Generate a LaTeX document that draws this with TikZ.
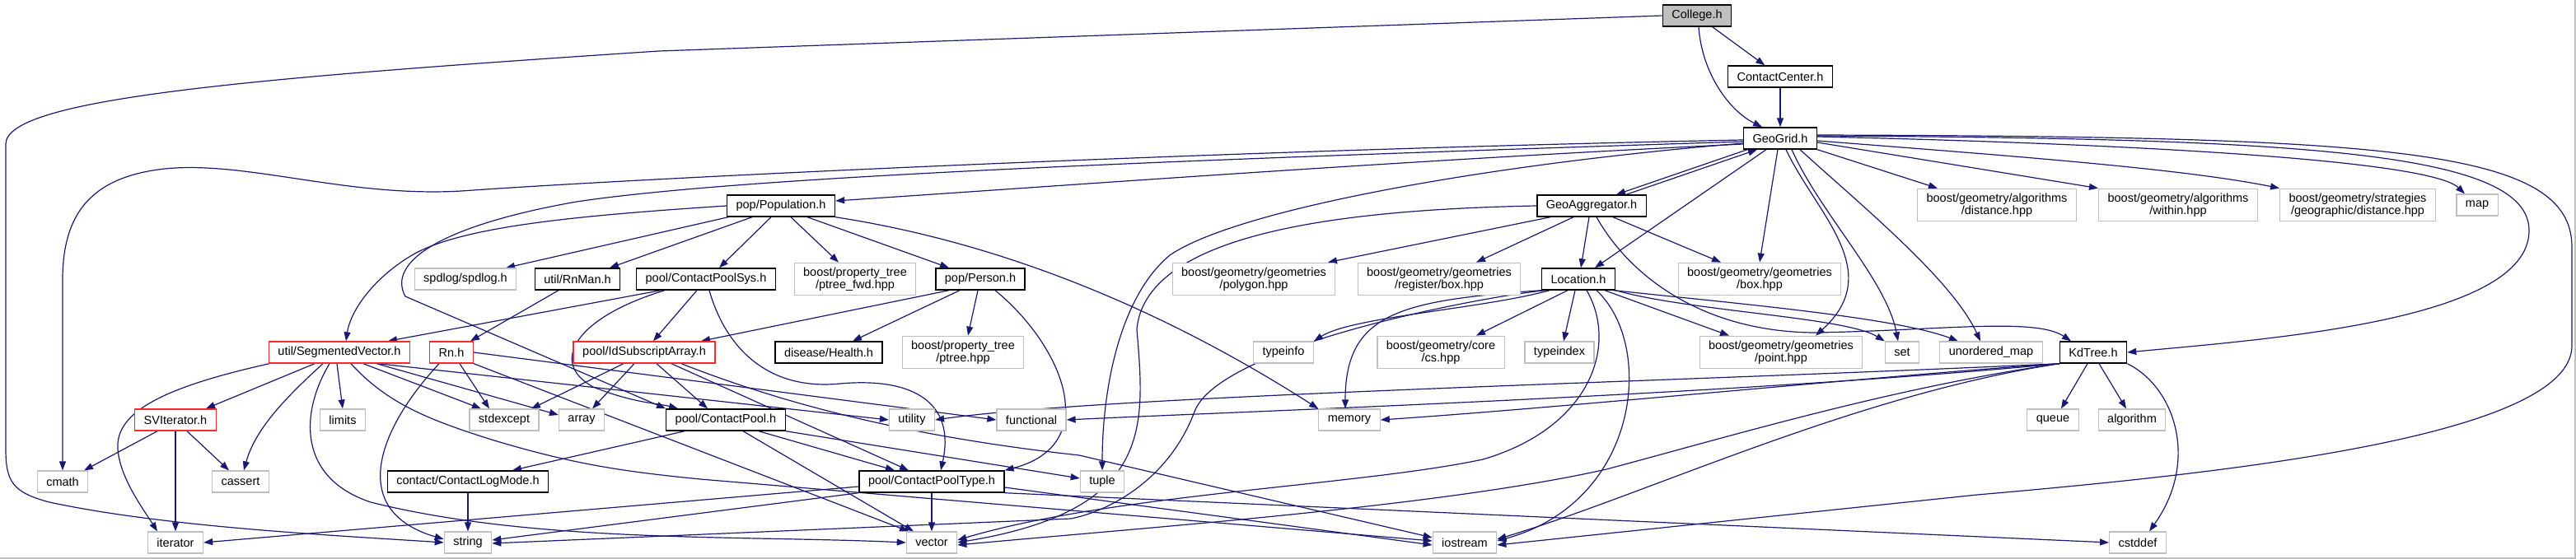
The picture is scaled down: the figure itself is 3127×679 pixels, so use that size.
\documentclass[tikz,border=0pt]{standalone}
\usepackage{fontspec}
\setmainfont{Liberation Sans}
\usetikzlibrary{arrows.meta, backgrounds}

\definecolor{depblue}{RGB}{25,25,112}
\definecolor{sysgray}{RGB}{191,191,191}
\definecolor{redframe}{RGB}{255,40,40}

\begin{document}
\begin{tikzpicture}[
  x=1pt, y=-1pt,
  every node/.style={font=\fontsize{14.5}{15}\selectfont},
  hdr/.style={draw=black, line width=1.4pt, fill=white, minimum height=26pt, inner xsep=11pt, inner ysep=5.5pt, align=center},
  sys/.style={hdr, draw=sysgray, line width=1.2pt},
  redhdr/.style={hdr, draw=redframe},
  roothdr/.style={hdr, fill=sysgray},
  dep/.style={-{Triangle[length=11pt, width=8pt]}, line width=1.2pt, draw=depblue},
  border/.style={draw=sysgray, line width=1.5pt}
]
\useasboundingbox (0,0) rectangle (3127,679);
\draw[border] (0,678) -- (3126,678) -- (3126,0);

% === GEO HEADERS ===
\node[roothdr] (college)  at (2060,19)  {College.h};
\node[hdr]     (ccenter)  at (2161,93)  {ContactCenter.h};
\node[hdr]     (geogrid)  at (2161,168) {GeoGrid.h};
\node[hdr]     (geoagg)   at (1932,250) {GeoAggregator.h};
\node[hdr]     (location) at (1916,339) {Location.h};
\node[hdr]     (kdtree)   at (2541,428) {KdTree.h};

% === POPULATION / POOL HEADERS ===
\node[hdr]    (population) at (948,250)  {pop/Population.h};
\node[hdr]    (rnman)      at (701,339)  {util/RnMan.h};
\node[hdr]    (cpsys)      at (857,339)  {pool/ContactPoolSys.h};
\node[hdr]    (person)     at (1190,339) {pop/Person.h};
\node[redhdr] (segvec)     at (412,428)  {util/SegmentedVector.h};
\node[redhdr] (rn)         at (548,428)  {Rn.h};
\node[redhdr] (idsub)      at (782,428)  {pool/IdSubscriptArray.h};
\node[hdr]    (health)     at (1006,428) {disease/Health.h};
\node[redhdr] (sviter)     at (213,510)  {SVIterator.h};
\node[hdr]    (cpool)      at (881,510)  {pool/ContactPool.h};
\node[hdr]    (clogmode)   at (568,585)  {contact/ContactLogMode.h};
\node[hdr]    (cptype)     at (1131,585) {pool/ContactPoolType.h};

% === SYSTEM / LIBRARY HEADERS ===
\node[sys] (spdlog)    at (565,339)  {spdlog/spdlog.h};
\node[sys] (ptreefwd)  at (1038,339) {boost/property\_tree\\/ptree\_fwd.hpp};
\node[sys] (polygon)   at (1522,339) {boost/geometry/geometries\\/polygon.hpp};
\node[sys] (regbox)    at (1747,339) {boost/geometry/geometries\\/register/box.hpp};
\node[sys] (gbox)      at (2136,339) {boost/geometry/geometries\\/box.hpp};
\node[sys] (bgdist)    at (2424,249) {boost/geometry/algorithms\\/distance.hpp};
\node[sys] (bgwithin)  at (2644,249) {boost/geometry/algorithms\\/within.hpp};
\node[sys] (bgstrat)   at (2862,249) {boost/geometry/strategies\\/geographic/distance.hpp};
\node[sys] (stdmap)    at (3007,249) {map};
\node[sys] (ptree)     at (1169,428) {boost/property\_tree\\/ptree.hpp};
\node[sys] (typeinfo)  at (1558,428) {typeinfo};
\node[sys] (gcs)       at (1749,428) {boost/geometry/core\\/cs.hpp};
\node[sys] (typeindex) at (1893,428) {typeindex};
\node[sys] (gpoint)    at (2162,428) {boost/geometry/geometries\\/point.hpp};
\node[sys] (stdset)    at (2309,428) {set};
\node[sys] (umap)      at (2417,428) {unordered\_map};
\node[sys] (limits)    at (416,510)  {limits};
\node[sys] (stdexcept) at (612,510)  {stdexcept};
\node[sys] (array)     at (706,510)  {array};
\node[sys] (utility)   at (1107,510) {utility};
\node[sys] (functional) at (1252,510) {functional};
\node[sys] (memory)    at (1638,510) {memory};
\node[sys] (queue)     at (2492,510) {queue};
\node[sys] (algorithm) at (2588,510) {algorithm};
\node[sys] (cmath)     at (76,585)   {cmath};
\node[sys] (cassert)   at (292,585)  {cassert};
\node[sys] (tuple)     at (1338,585) {tuple};
\node[sys] (iterator)  at (213,659)  {iterator};
\node[sys] (string)    at (568,659)  {string};
\node[sys] (vector)    at (1131,659) {vector};
\node[sys] (iostream)  at (1778,659) {iostream};
\node[sys] (cstddef)   at (2595,659) {cstddef};

\begin{scope}[on background layer]
% === COLLEGE / CONTACTCENTER ===
\draw[dep] (college) -- (ccenter);
\draw[dep] ([xshift=2pt]college.south) .. controls (2066,90) and (2100,135) .. ([xshift=-22pt]geogrid.north);
\draw[dep] (college.west) -- (800,62) .. controls (300,95) and (7,120) .. (7,175) -- (7,545) .. controls (7,585) and (15,598) .. (60,610) .. controls (200,640) and (400,650) .. (string.west);
\draw[dep] (ccenter) -- (geogrid);

% === GEOGRID ===
\draw[dep] ([xshift=-40pt]geogrid.south) -- ([xshift=30pt]geoagg.north);
\draw[dep] ([xshift=42pt]geoagg.north) -- ([xshift=-28pt]geogrid.south);
\draw[dep] ([xshift=-17pt]geogrid.south) -- ([xshift=20pt]location.north);
\draw[dep] ([xshift=-3pt]geogrid.south) -- (gbox.north);
\draw[dep] ([xshift=7pt]geogrid.south) .. controls (2205,260) and (2290,330) .. ([xshift=42pt]gpoint.north);
\draw[dep] ([xshift=14pt]geogrid.south) .. controls (2210,260) and (2290,340) .. ([xshift=-5pt]stdset.north);
\draw[dep] ([xshift=24pt]geogrid.south) .. controls (2260,250) and (2370,340) .. ([xshift=-13pt]umap.north);
\draw[dep] (geogrid.south east) -- ([xshift=-72pt]bgdist.north);
\draw[dep] ([yshift=-5pt]geogrid.east) -- (bgwithin.north west);
\draw[dep] ([yshift=-3pt]geogrid.east) .. controls (2450,190) and (2650,205) .. (bgstrat.north west);
\draw[dep] ([yshift=2pt]geogrid.east) .. controls (2600,175) and (2950,195) .. ([xshift=-15pt]stdmap.north);
\draw[dep] ([yshift=3pt]geogrid.east) .. controls (2800,168) and (3070,185) .. (3070,280) .. controls (3070,390) and (2750,412) .. (kdtree.east);
\draw[dep] ([yshift=4pt]geogrid.east) .. controls (2900,166) and (3122,180) .. (3122,300) -- (3122,420) .. controls (3122,530) and (2700,575) .. (2400,601) -- ([yshift=-3pt]iostream.east);
\draw[dep] ([yshift=-7pt]geogrid.west) .. controls (1700,195) and (1300,225) .. ([yshift=6pt]population.east);
\draw[dep] ([yshift=-2pt]geogrid.west) .. controls (1500,182) and (800,215) .. (560,232) .. controls (420,240) and (300,195) .. (200,205) .. controls (110,215) and (76,260) .. (76,340) -- (cmath.north);
\draw[dep] ([yshift=-4pt]geogrid.west) .. controls (1400,195) and (900,215) .. (700,245) .. controls (530,275) and (470,320) .. (492,360) -- (cpool.north west);
\draw[dep] ([yshift=-6pt]geogrid.west) .. controls (1800,200) and (1500,255) .. (1420,310) .. controls (1360,360) and (1338,470) .. (tuple.north);

% === GEOAGGREGATOR ===
\draw[dep] ([xshift=-50pt]geoagg.south) -- ([xshift=90pt]polygon.north);
\draw[dep] ([xshift=-22pt]geoagg.south) -- ([xshift=45pt]regbox.north);
\draw[dep] ([xshift=-3pt]geoagg.south) -- ([xshift=3pt]location.north);
\draw[dep] ([xshift=26pt]geoagg.south) -- ([xshift=-47pt]gbox.north);
\draw[dep] ([xshift=6pt]geoagg.south) .. controls (1975,330) and (2060,402) .. (2200,404) .. controls (2350,402) and (2470,385) .. ([xshift=-27pt]kdtree.north);
\draw[dep] (geoagg.west) .. controls (1600,255) and (1390,290) .. (1380,400) .. controls (1390,520) and (1400,620) .. (vector.east);

% === LOCATION ===
\draw[dep] (location.south west) .. controls (1700,365) and (1633,380) .. ([xshift=-5pt]memory.north);
\draw[dep] ([xshift=-35pt]location.south) .. controls (1800,375) and (1640,385) .. (typeinfo.north east);
\draw[dep] ([xshift=-13pt]location.south) -- ([xshift=43pt]gcs.north);
\draw[dep] ([xshift=-4pt]location.south) -- ([xshift=5pt]typeindex.north);
\draw[dep] ([xshift=32pt]location.south) -- ([xshift=-63pt]gpoint.north);
\draw[dep] (location.south east) .. controls (2050,378) and (2240,385) .. (stdset.north west);
\draw[dep] ([xshift=-2pt]location.south east) .. controls (2100,368) and (2300,385) .. ([xshift=-40pt]umap.north);
\draw[dep] ([xshift=22pt]location.south) .. controls (2010,420) and (1990,610) .. ([yshift=2pt]iostream.east);
\draw[dep] ([xshift=10pt]location.south) .. controls (1965,420) and (1930,520) .. (1800,558) .. controls (1650,590) and (1350,600) .. ([yshift=3pt]vector.east);
\draw[dep] ([xshift=-40pt]location.south) .. controls (1800,360) and (1480,420) .. (1450,500) .. controls (1420,580) and (1350,620) .. (1300,630) -- ([yshift=-1pt]string.east);

% === KDTREE ===
\draw[dep] ([xshift=-7pt]kdtree.south) -- ([xshift=10pt]queue.north);
\draw[dep] ([xshift=7pt]kdtree.south) -- ([xshift=-7pt]algorithm.north);
\draw[dep] (kdtree.south east) .. controls (2640,470) and (2670,560) .. ([xshift=14pt]cstddef.north);
\draw[dep] (kdtree.south west) .. controls (2300,455) and (1900,495) .. (memory.east);
\draw[dep] (kdtree.south west) .. controls (2000,465) and (1350,480) .. (utility.east);
\draw[dep] (kdtree.south west) .. controls (2100,480) and (1500,500) .. (functional.east);
\draw[dep] (kdtree.south west) .. controls (2300,470) and (2100,530) .. (1950,570) .. controls (1750,615) and (1400,640) .. ([yshift=-3pt]vector.east);
\draw[dep] (kdtree.south west) .. controls (2250,480) and (2000,600) .. ([yshift=4pt]iostream.east);

% === POPULATION / PERSON ===
\draw[dep] (population.west) .. controls (700,262) and (560,275) .. (500,310) .. controls (450,340) and (425,380) .. ([xshift=8pt]segvec.north);
\draw[dep] ([xshift=-64pt]population.south) -- ([xshift=49pt]spdlog.north);
\draw[dep] ([xshift=-35pt]population.south) -- ([xshift=39pt]rnman.north);
\draw[dep] ([xshift=-12pt]population.south) -- ([xshift=16pt]cpsys.north);
\draw[dep] ([xshift=12pt]population.south) -- ([xshift=-20pt]ptreefwd.north);
\draw[dep] ([xshift=32pt]population.south) -- ([xshift=-38pt]person.north);
\draw[dep] (population.south east) .. controls (1250,300) and (1450,400) .. (memory.north west);
\draw[dep] ([xshift=-38pt]person.south) -- ([xshift=69pt]idsub.north);
\draw[dep] ([xshift=-25pt]person.south) -- ([xshift=29pt]health.north);
\draw[dep] ([xshift=-3pt]person.south) -- ([xshift=6pt]ptree.north);
\draw[dep] ([xshift=18pt]person.south) .. controls (1290,420) and (1340,540) .. (cptype.north east);
\draw[dep] ([xshift=-23pt]rnman.south) -- ([xshift=23pt]rn.north);

% === CONTACTPOOLSYS ===
\draw[dep] ([xshift=-55pt]cpsys.south) -- ([xshift=59pt]segvec.north);
\draw[dep] ([xshift=-11pt]cpsys.south) -- ([xshift=11pt]idsub.north);
\draw[dep] ([xshift=-50pt]cpsys.south) .. controls (700,385) and (665,440) .. (720,470) .. controls (770,490) and (800,490) .. ([xshift=-58pt]cpool.north);
\draw[dep] ([xshift=4pt]cpsys.south) .. controls (880,420) and (930,475) .. (1020,466) .. controls (1110,458) and (1160,490) .. ([xshift=11pt]cptype.north);

% === RN / IDSUBSCRIPTARRAY ===
\draw[dep] ([xshift=-15pt]rn.south) .. controls (460,520) and (420,620) .. ([yshift=4pt]string.west);
\draw[dep] ([xshift=10pt]rn.south) -- ([xshift=-18pt]stdexcept.north);
\draw[dep] (rn.south east) -- ([xshift=-28pt]vector.north);
\draw[dep] (rn.east) -- (functional.west);
\draw[dep] ([xshift=-25pt]idsub.south) -- ([xshift=33pt]stdexcept.north);
\draw[dep] ([xshift=-12pt]idsub.south) -- ([xshift=13pt]array.north);
\draw[dep] ([xshift=15pt]idsub.south) -- ([xshift=-22pt]cpool.north);
\draw[dep] ([xshift=33pt]idsub.south) -- ([xshift=-28pt]cptype.north);
\draw[dep] ([xshift=45pt]idsub.south) .. controls (950,490) and (1100,530) .. (1310,553) -- ([yshift=6pt]iostream.west);

% === SEGMENTEDVECTOR / SVITERATOR ===
\draw[dep] ([xshift=-85pt]segvec.south) .. controls (200,470) and (140,500) .. (143,545) .. controls (145,580) and (175,620) .. ([xshift=-22pt]iterator.north);
\draw[dep] ([xshift=-30pt]segvec.south) -- ([xshift=37pt]sviter.north);
\draw[dep] ([xshift=-20pt]segvec.south) .. controls (350,480) and (310,520) .. ([xshift=4pt]cassert.north);
\draw[dep] ([xshift=-12pt]segvec.south) .. controls (365,500) and (360,580) .. (450,610) .. controls (650,660) and (900,650) .. (vector.west);
\draw[dep] ([xshift=-3pt]segvec.south) -- (limits.north);
\draw[dep] ([xshift=14pt]segvec.south) .. controls (470,490) and (520,510) .. (600,535) .. controls (700,565) and (760,573) .. (850,582) -- ([yshift=2pt]iostream.west);
\draw[dep] ([xshift=29pt]segvec.south) -- ([xshift=-28pt]stdexcept.north);
\draw[dep] ([xshift=45pt]segvec.south) -- ([yshift=6pt]array.west);
\draw[dep] ([xshift=47pt]segvec.south) -- (utility.west);
\draw[dep] ([xshift=-22pt]sviter.south) -- ([xshift=26pt]cmath.north);
\draw[dep] (sviter.south) -- (iterator.north);
\draw[dep] ([xshift=14pt]sviter.south) -- ([xshift=-14pt]cassert.north);

% === CONTACTPOOL / CONTACTPOOLTYPE ===
\draw[dep] ([xshift=-50pt]cpool.south) -- ([xshift=54pt]clogmode.north);
\draw[dep] ([xshift=21pt]cpool.south) -- ([xshift=-22pt]vector.north);
\draw[dep] ([xshift=40pt]cpool.south) -- ([xshift=-45pt]cptype.north);
\draw[dep] (cpool.south east) -- ([yshift=4pt]tuple.west);
\draw[dep] (clogmode) -- (string);
\draw[dep] (cptype) -- (vector);
\draw[dep] ([yshift=-6pt]cptype.west) -- (iterator.east);
\draw[dep] (cptype.south west) -- ([yshift=3pt]string.east);
\draw[dep] ([yshift=-7pt]cptype.east) -- ([yshift=-3pt]iostream.west);
\draw[dep] (cptype.south east) -- (cstddef.west);
\end{scope}

\end{tikzpicture}
\end{document}
